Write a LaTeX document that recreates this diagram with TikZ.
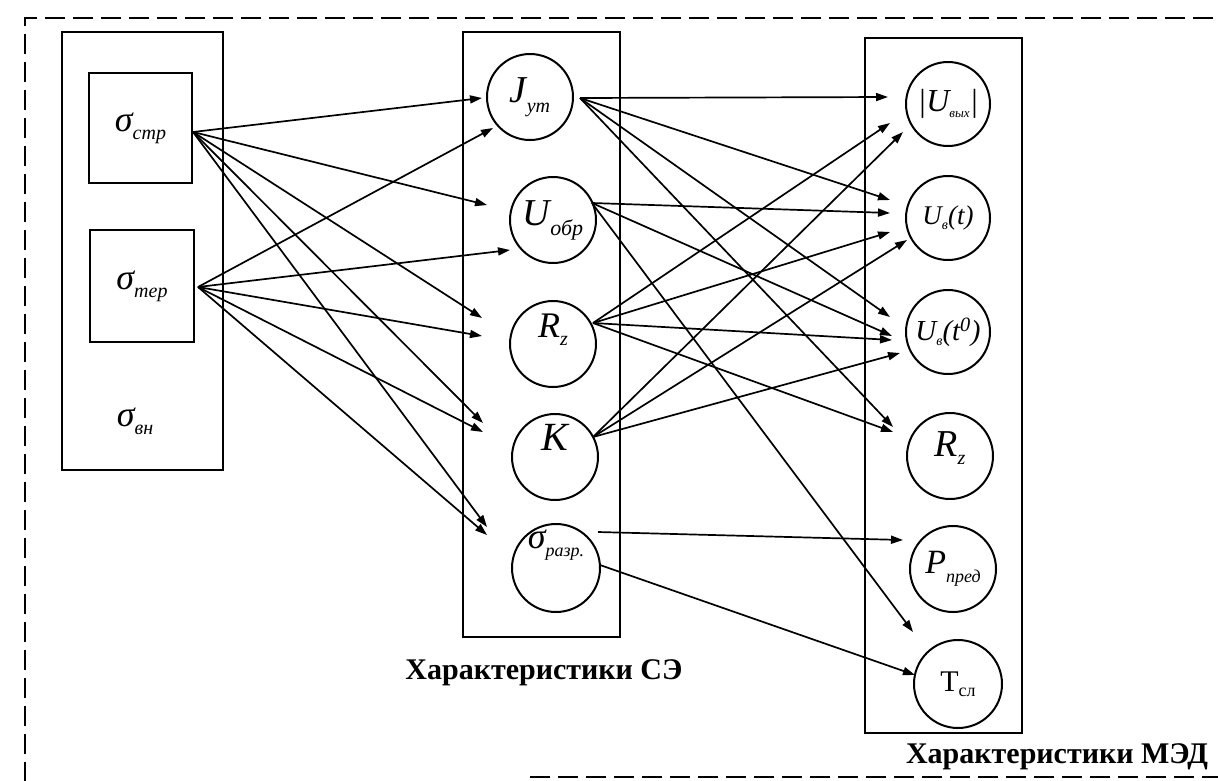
\documentclass[tikz,border=0pt]{standalone}
\usepackage{fontspec}
\setmainfont{Liberation Serif}
\usetikzlibrary{calc,arrows.meta}
\newcommand{\lbl}[5]{{\fontsize{#1}{#1}\selectfont\itshape #2\raisebox{-#5pt}{\fontsize{#3}{#3}\selectfont #4}}}
\tikzset{
  box/.style={draw, line width=2pt, inner sep=0pt},
  circ/.style={draw, circle, line width=2pt, minimum size=86pt, inner sep=0pt},
  arr/.style={line width=1.7pt, -{Triangle[length=12pt,width=8pt]}},
  captext/.style={font=\fontsize{30}{30}\selectfont\bfseries},
  frame/.style={line width=2.2pt, dash pattern=on 20pt off 8pt}
}
\begin{document}
\begin{tikzpicture}[x=1pt,y=-1pt]
\useasboundingbox (0,0) rectangle (1218,780);
\clip (0,0) rectangle (1218,780);
\fill[white] (0,0) rectangle (1218,780);
\draw[frame] (25,782) -- (25,18) -- (1220,18);
\draw[frame] (530,777) -- (1220,777);

% left column
\node[box, minimum width=161pt, minimum height=438pt] (L) at (142.5,251) {};
\node[box, minimum width=103pt, minimum height=110pt] (s1) at (140.5,128) {\lbl{36}{σ}{20}{стр}{8}};
\node[box, minimum width=104pt, minimum height=112pt] (s2) at (142,286) {\lbl{36}{σ}{20}{тер}{8}};
\node (s3) at (135,421) {\lbl{36}{σ}{20}{вн}{8}};

% middle column
\node[box, minimum width=157pt, minimum height=605pt] (M) at (541.5,334.5) {};
\node[circ] (J) at (530,97) {\lbl{38}{J}{20}{ут}{10}};
\node[circ] (U) at (553,220) {\lbl{38}{U}{22}{обр}{10}};
\node[circ, label={[yshift=14pt]center:\lbl{36}{R}{20}{z}{8}}] (R) at (553,344) {};
\node[circ, label={[yshift=20pt]center:\lbl{40}{K}{20}{}{0}}] (K) at (555,457) {};
\node[circ, minimum size=88pt, label={[yshift=23pt]center:\lbl{36}{σ}{18}{разр.}{8}}] (S) at (556,568) {};
\node[captext] (capM) at (544,673) {Характеристики СЭ};

% right column
\node[box, minimum width=157pt, minimum height=695pt] (Rb) at (943.5,385.5) {};
\node[circ, minimum size=84pt] (Uo) at (948,104) {{\fontsize{32}{32}\selectfont\itshape |U\raisebox{-6pt}{\fontsize{13}{13}\selectfont вых}|}};
\node[circ, minimum size=84pt] (Ut) at (948,218) {\lbl{27}{U}{14}{в}{5}{\fontsize{27}{27}\selectfont\itshape (t)}};
\node[circ, minimum size=84pt] (Ut0) at (948,332) {\lbl{29}{U}{14}{в}{5}{\fontsize{29}{29}\selectfont\itshape (t\textsuperscript{0})}};
\node[circ, label={[yshift=8pt]center:\lbl{38}{R}{20}{z}{8}}] (Rz) at (950,456) {};
\node[circ] (P) at (953,569) {\lbl{34}{P}{18}{пред}{9}};
\node[circ, minimum size=88pt] (T) at (958,684) {{\fontsize{30}{30}\selectfont Т\raisebox{-5pt}{\fontsize{18}{18}\selectfont сл}}};
\node[captext] (capR) at (1057,757) {Характеристики МЭД};

% emission points
\coordinate (o1) at ($(s1.east)+(0,4)$);
\coordinate (o2) at ($(s2.east)+(3,1)$);
\coordinate (oJ) at ($(J)+(50,1)$);
\coordinate (oU) at ($(U)+(39,-17)$);
\coordinate (oR) at ($(R)+(40,-21)$);
\coordinate (oK) at ($(K)+(38,-20)$);
\coordinate (oS1) at ($(S)+(42,-36)$);
\coordinate (oS2) at ($(S)+(44,-3)$);

% left -> middle
\draw[arr] (o1) -- ($(J)+(-48,1)$);
\draw[arr] (o2) -- ($(J)+(-37,31)$);
\draw[arr] (o1) -- ($(U)+(-66,-15)$);
\draw[arr] (o2) -- ($(U)+(-43,30)$);
\draw[arr] (o1) -- ($(R)+(-71,-26)$);
\draw[arr] (o2) -- ($(R)+(-71,-8)$);
\draw[arr] (o1) -- ($(K)+(-72,-34)$);
\draw[arr] (o2) -- ($(K)+(-72,-25)$);
\draw[arr] (o1) -- ($(S)+(-69,-41)$);
\draw[arr] (o2) -- ($(S)+(-69,-33)$);

% middle -> right
\draw[arr] (oJ) -- ($(Uo)+(-60,-7)$);
\draw[arr] (oR) -- ($(Uo)+(-58,19)$);
\draw[arr] (oK) -- ($(Uo)+(-45,28)$);
\draw[arr] (oJ) -- ($(Ut)+(-58,-18)$);
\draw[arr] (oU) -- ($(Ut)+(-58,-5)$);
\draw[arr] (oR) -- ($(Ut)+(-58,14)$);
\draw[arr] (oK) -- ($(Ut)+(-41,22)$);
\draw[arr] (oJ) -- ($(Ut0)+(-58,-15)$);
\draw[arr] (oU) -- ($(Ut0)+(-56,4)$);
\draw[arr] (oR) -- ($(Ut0)+(-56,8)$);
\draw[arr] (oK) -- ($(Ut0)+(-48,21)$);
\draw[arr] (oJ) -- ($(Rz)+(-57,-29)$);
\draw[arr] (oR) -- ($(Rz)+(-57,-24)$);
\draw[arr] (oS1) -- ($(P)+(-50,-29)$);
\draw[arr] (oU) -- ($(T)+(-45,-52)$);
\draw[arr] (oS2) -- ($(T)+(-43,-9)$);
\end{tikzpicture}
\end{document}
